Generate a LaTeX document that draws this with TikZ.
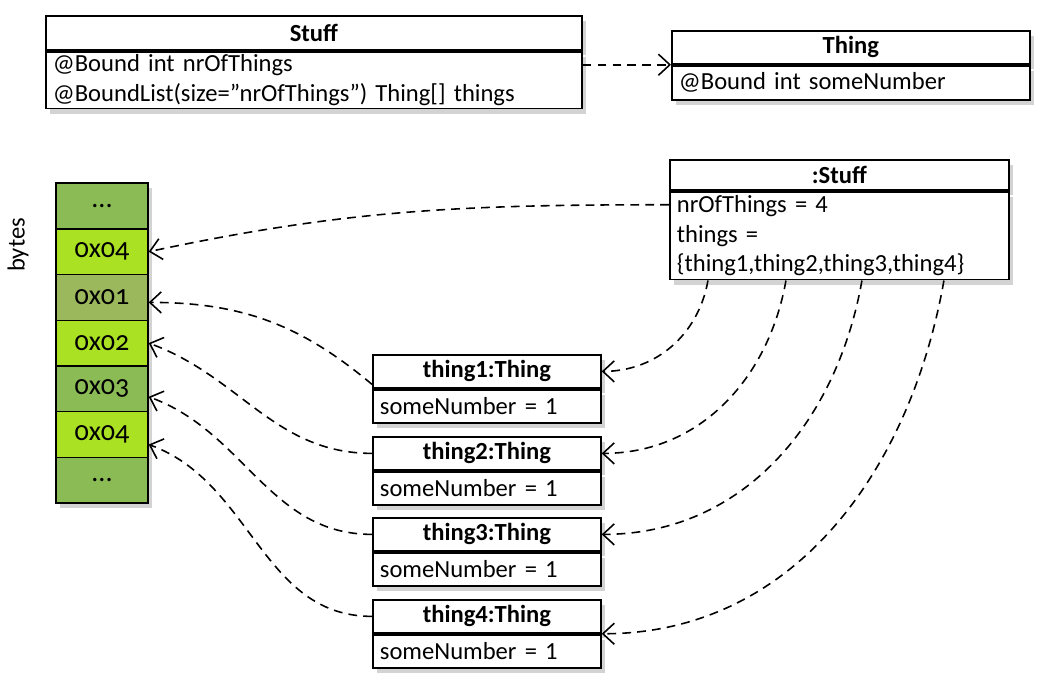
\documentclass[tikz,border=0pt]{standalone}
\usepackage{fontspec}
\setmainfont{Carlito}
\newfontfamily\bytefont[Numbers=OldStyle]{Carlito}
\usepackage{tikz}
\usetikzlibrary{arrows.meta,positioning,shadows}
\definecolor{bytegreen}{RGB}{139,187,85}
\definecolor{bytelime}{RGB}{170,225,35}
\definecolor{byteolive}{RGB}{155,184,92}
\tikzset{
  boxshadow/.style={drop shadow={opacity=0.35,shadow xshift=2.5pt,shadow yshift=-3pt}},
  umlhead/.style={draw,line width=1pt,fill=white,boxshadow,inner sep=0pt,
    font=\fontsize{14}{17}\selectfont\bfseries},
  umlbody/.style={draw,line width=1pt,fill=white,boxshadow,inner xsep=4pt,inner ysep=0pt,
    align=left,font=\fontsize{14}{17}\selectfont},
  bytecell/.style={draw,line width=0.8pt,minimum width=1.84cm,minimum height=0.915cm,
    inner sep=0pt,font=\bytefont\fontsize{16}{18}\selectfont},
  ref/.style={dashed,dash pattern=on 5pt off 3.5pt,line width=0.9pt,
    -{Straight Barb[length=6.5pt,width=12pt]}}
}

\begin{document}
\begin{tikzpicture}[x=0.02cm,y=-0.02cm]
  \useasboundingbox (0,0) rectangle (1053,696);

  % classes
  \node[umlhead,anchor=north west,minimum width=10.72cm,minimum height=0.68cm] (clsStuff) at (45,15) {Stuff};
  \node[umlbody,below=0pt of clsStuff,text width=10.44cm,minimum height=1.14cm] (clsStuffBody)
    {@Bound int nrOfThings\\@BoundList(size=\char34 nrOfThings\char34) Thing[] things};
  \node[umlhead,anchor=north west,minimum width=7.16cm,minimum height=0.66cm] (clsThing) at (671,30) {Thing};
  \node[umlbody,below=0pt of clsThing,text width=6.88cm,minimum height=0.68cm] (clsThingBody)
    {@Bound int someNumber};
  \draw[ref] (clsThing.south west -| clsStuffBody.east) -- (clsThing.south west);

  % bytes
  \fill[boxshadow,white] (56,183) rectangle (148,503);
  \foreach \i/\col/\txt in {1/bytegreen/{...},2/bytelime/0x04,3/byteolive/0x01,4/bytelime/0x02,
                             5/bytegreen/0x03,6/bytelime/0x04,7/bytegreen/{...}} {
    \node[bytecell,fill=\col] (b\i) at (102,{206+45.7*(\i-1)}) {\txt};
  }
  \node[rotate=90,font=\fontsize{14}{17}\selectfont] (bytesLabel) at (18,245) {bytes};

  % objects
  \node[umlhead,anchor=north west,minimum width=6.78cm,minimum height=0.6cm] (objStuff) at (669,159) {:Stuff};
  \node[umlbody,below=0pt of objStuff,text width=6.5cm,minimum height=1.76cm] (objStuffBody)
    {nrOfThings = 4\\things =\\\{thing1,thing2,thing3,thing4\}};
  \foreach \n/\y in {1/354,2/436,3/517,4/599} {
    \node[umlhead,anchor=north west,minimum width=4.56cm,minimum height=0.66cm] (thing\n) at (372,\y) {thing\n:Thing};
    \node[umlbody,below=0pt of thing\n,text width=4.28cm,minimum height=0.66cm] (thing\n Body) {someNumber = 1};
  }

  % references
  \draw[ref] ([yshift=-0.28cm]objStuffBody.north west) to[out=180,in=12] (b2.east);
  \draw[ref] ([xshift=0.78cm]objStuffBody.south west) to[out=-100,in=0] (thing1.east);
  \draw[ref] ([xshift=2.34cm]objStuffBody.south west) to[out=-100,in=0] (thing2.east);
  \draw[ref] ([xshift=3.86cm]objStuffBody.south west) to[out=-100,in=0] (thing3.east);
  \draw[ref] ([xshift=5.5cm]objStuffBody.south west) to[out=-100,in=0] (thing4.south east);
  \draw[ref] ([yshift=-0.26cm]thing1.west) to[out=140,in=0] ([yshift=-0.1cm]b3.east);
  \draw[ref] (thing2.west) to[out=180,in=-20] (b4.east);
  \draw[ref] (thing3.west) to[out=180,in=-20] ([yshift=-0.16cm]b5.east);
  \draw[ref] (thing4.west) to[out=180,in=-20] ([yshift=-0.2cm]b6.east);
\end{tikzpicture}
\end{document}
